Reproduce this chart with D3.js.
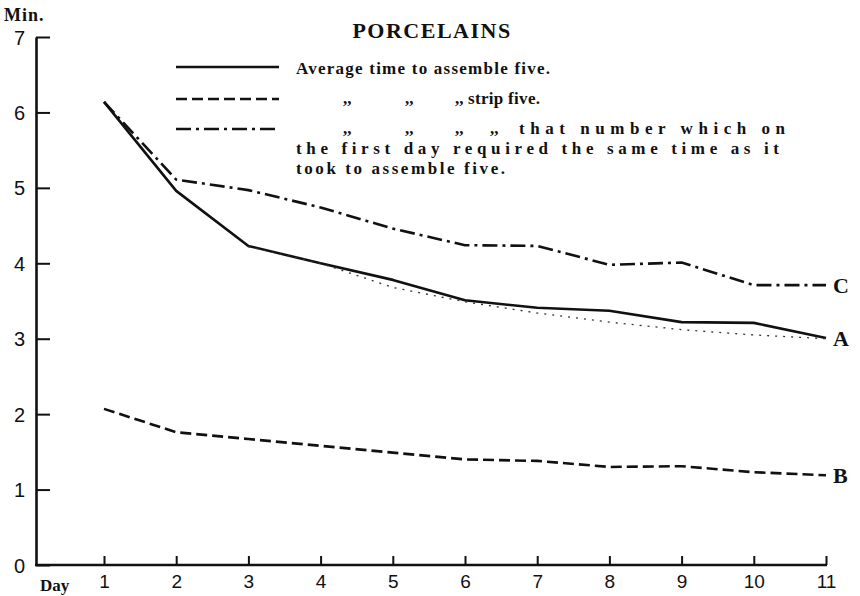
<!DOCTYPE html>
<html><head><meta charset="utf-8">
<script src="https://cdn.jsdelivr.net/npm/d3@7"></script>
<style>
html,body{margin:0;padding:0;background:#fff;}
svg{display:block;}
.serif{font-family:"Liberation Serif","DejaVu Serif",serif;font-weight:bold;fill:#111;}
.sans{font-family:"Liberation Sans",Arial,sans-serif;fill:#111;}
.narrow{font-family:"Liberation Sans Narrow","Liberation Sans",Arial,sans-serif;fill:#111;}
</style>
</head><body>
<script>
// ---- data ----
const days = [1,2,3,4,5,6,7,8,9,10,11];
const assembleA = [6.14,4.96,4.23,4.0,3.78,3.51,3.41,3.37,3.22,3.21,3.01];
const stripB    = [2.07,1.76,1.67,1.58,1.49,1.40,1.38,1.30,1.31,1.23,1.19];
const equivC    = [6.14,5.11,4.97,4.74,4.46,4.24,4.23,3.98,4.01,3.71,3.71];
const faintTrace= [null,null,4.22,4.0,3.68,3.49,3.34,3.22,3.12,3.05,3.0];
const yTicks = [0,1,2,3,4,5,6,7];
const title = "PORCELAINS";
const endLabels = ["A","B","C"];

const W=860,H=596;
const svg=d3.select("body").append("svg").attr("width",W).attr("height",H);
const x=d3.scaleLinear().domain([1,11]).range([104,826]);
const y=d3.scaleLinear().domain([0,7]).range([565,37]);
const axisX0=36;

// y axis
const gy=svg.append("g").attr("transform",`translate(${axisX0},0)`)
  .call(d3.axisLeft(y).tickValues(yTicks).tickFormat(d3.format("d")).tickSizeInner(-14).tickSizeOuter(0).tickPadding(11));
gy.select(".domain").attr("stroke","#111").attr("stroke-width",2.6);
gy.selectAll(".tick line").attr("stroke","#111").attr("stroke-width",2);
gy.selectAll(".tick text").attr("class","sans").style("font-size","20px").attr("dy","0.35em");

// x axis
const gx=svg.append("g").attr("transform",`translate(0,${y(0)})`)
  .call(d3.axisBottom(x).tickValues(days).tickFormat(d3.format("d")).tickSizeInner(-9).tickSizeOuter(0).tickPadding(10));
gx.select(".domain").attr("d",`M${axisX0-1},0H${x(11)+1}`).attr("stroke","#111").attr("stroke-width",2.6);
gx.selectAll(".tick line").attr("stroke","#111").attr("stroke-width",2);
gx.selectAll(".tick text").attr("class","narrow").style("font-size","19px");
svg.append("text").attr("class","serif").attr("x",40).attr("y",591).style("font-size","17px").text("Day");
svg.append("text").attr("class","serif").attr("x",4).attr("y",21).style("font-size","18px").style("letter-spacing","1px").text("Min.");

// lines
const line=d3.line().defined(d=>d[1]!=null).x(d=>x(d[0])).y(d=>y(d[1]));
const series=[
  {vals:assembleA,dash:null,w:2.6,c:"#111"},
  {vals:stripB,dash:"11,5",w:2.6,c:"#111"},
  {vals:equivC,dash:"15,5,3,5",w:2.6,c:"#111"},
  {vals:faintTrace,dash:"2,6",w:1.3,c:"#333"}
];
series.forEach(s=>{
  svg.append("path").datum(days.map((d,i)=>[d,s.vals[i]]))
    .attr("d",line).attr("fill","none").attr("stroke",s.c)
    .attr("stroke-width",s.w).attr("stroke-dasharray",s.dash)
    .attr("stroke-linejoin","round");
});

// end labels
const ends=[assembleA,stripB,equivC];
ends.forEach((v,i)=>{
  svg.append("text").attr("class","serif").attr("x",x(11)+7).attr("y",y(v[v.length-1]))
    .attr("dy","0.36em").style("font-size","22px").text(endLabels[i]);
});

// title
svg.append("text").attr("class","serif").attr("x",432).attr("y",38).attr("text-anchor","middle")
  .style("font-size","22px").style("letter-spacing","1.5px").text(title);

// legend
const lg=[{y:67,dash:null},{y:99,dash:"11,5"},{y:129,dash:"15,5,3,5"}];
lg.forEach(l=>{
  svg.append("line").attr("x1",176).attr("x2",279).attr("y1",l.y).attr("y2",l.y)
    .attr("stroke","#111").attr("stroke-width",2.6).attr("stroke-dasharray",l.dash);
});
function t(txt,xx,yy,len){
  const e=svg.append("text").attr("class","serif").attr("x",xx).attr("y",yy).style("font-size","17px").text(txt);
  if(len) e.attr("textLength",len).attr("lengthAdjust","spacing");
}
t("Average time to assemble five.",296,74,254);
[343,405,455].forEach(cx=>t(",,",cx,104));
t("strip five.",468,104,72);
[343,405,455,490].forEach(cx=>t(",,",cx,134));
t("that number which on",519,134,266);
t("the first day required the same time as it",296,154,483);
t("took to assemble five.",296,174,209);
</script>
</body></html>
